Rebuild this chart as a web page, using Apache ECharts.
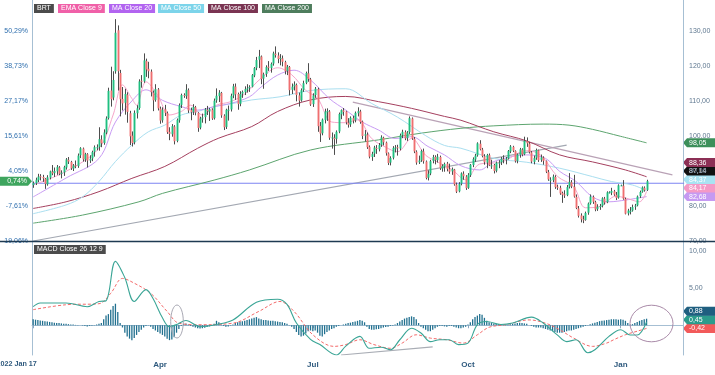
<!DOCTYPE html>
<html><head><meta charset="utf-8">
<script src="https://cdn.jsdelivr.net/npm/echarts@6/dist/echarts.min.js"></script>
<style>html,body{margin:0;padding:0;background:#fff}#c{width:715px;height:375px}</style>
</head><body><div id="c"></div>
<script>
// ---------- DATA ----------
const startDate = [2022, 0, 17];          // first trading day shown
const categoryCount = 277;                // weekdays on the axis (incl. empty space at right)
const xTickIndex = [0, 54, 119, 185, 250];
const xTickText = ['2022 Jan 17', 'Apr', 'Jul', 'Oct', 'Jan'];
const priceTicks = [70, 80, 90, 100, 110, 120, 130];
const pctTickLabels = ['-19,06%', '-7,61%', '4,05%', '15,61%', '27,17%', '38,73%', '50,29%'];
const basePrice = 86.5;
const currentPctLabel = '0,74%';

// daily candles [open, high, low, close]
const ohlc = [
[86.0,87.0,85.2,86.5],[86.5,88.1,86.0,87.5],[87.4,89.2,86.8,88.4],[88.5,89.1,87.3,88.4],[88.3,88.9,86.9,87.9],
[87.8,88.0,84.9,86.3],[86.2,88.8,85.8,88.2],[88.1,90.1,87.6,89.9],[89.8,91.7,88.8,89.3],[89.4,91.0,88.3,90.0],
[89.9,91.7,88.9,91.2],[91.0,91.4,88.8,89.2],[89.2,90.2,87.9,89.5],[89.6,91.5,88.6,91.1],[91.0,93.7,90.4,93.3],
[93.2,94.0,92.0,92.7],[92.6,92.9,90.3,90.8],[90.7,92.0,90.0,91.6],[91.6,93.0,90.8,91.4],[91.4,95.0,90.9,94.4],
[94.5,96.8,93.7,96.5],[96.4,96.7,92.7,93.3],[93.3,95.2,92.6,94.8],[94.8,95.1,91.0,93.0],[93.0,94.5,92.3,93.5],
[93.6,95.8,92.8,95.4],[95.5,97.3,94.1,96.8],[96.7,97.6,95.9,96.8],[96.9,102.5,95.8,99.1],[99.0,100.2,96.8,97.9],
[98.0,101.9,97.5,101.0],[101.0,105.6,100.5,105.0],[105.1,113.8,104.7,112.9],[113.0,119.8,108.4,110.5],[111.0,118.5,110.2,116.0],
[118.5,133.4,117.8,129.5],[130.2,131.6,113.0,118.5],[118.0,118.9,105.6,110.5],[110.6,114.0,107.3,109.3],[109.5,113.5,106.1,112.0],
[111.8,112.5,103.8,106.9],[106.5,107.2,97.4,99.9],[100.1,101.3,97.0,98.0],[98.2,107.3,97.6,106.6],[106.5,108.8,105.0,107.9],
[108.0,116.2,107.5,115.6],[115.8,117.4,113.8,115.5],[115.6,123.6,115.2,121.6],[121.4,122.1,116.9,119.0],[119.2,121.2,116.5,118.5],
[118.4,119.0,111.3,112.5],[112.4,113.0,107.1,110.2],[110.3,114.8,109.8,113.4],[113.3,113.7,107.3,107.9],[107.8,108.4,103.5,104.4],
[104.5,108.2,103.8,107.5],[107.6,108.9,105.7,106.6],[106.5,107.0,100.6,101.1],[101.2,102.5,98.8,100.6],[100.5,103.4,99.8,102.8],
[102.7,103.1,97.6,98.5],[98.6,105.0,98.2,104.6],[104.5,109.3,103.8,108.8],[108.9,112.1,108.0,111.7],[111.7,112.2,110.9,111.5],
[111.4,114.8,110.6,113.2],[113.1,113.6,106.6,107.3],[107.4,108.1,104.5,106.8],[106.9,109.1,106.0,108.3],[108.2,108.6,105.9,106.7],
[106.6,106.8,101.2,102.3],[102.4,105.5,101.9,105.0],[105.0,106.4,103.8,105.3],[105.4,108.0,103.6,107.6],[107.5,108.6,106.0,107.1],
[107.0,108.0,104.3,107.6],[107.5,107.9,104.6,105.0],[105.1,110.7,104.7,110.1],[110.2,113.6,109.5,111.5],[111.4,113.1,109.7,112.4],
[112.3,112.6,105.2,105.9],[105.8,106.2,101.7,102.5],[102.6,107.8,102.0,107.5],[107.4,108.7,104.4,107.5],[107.6,112.1,107.0,111.5],
[111.6,114.9,110.8,114.2],[114.1,115.0,110.3,111.9],[112.0,112.4,107.5,109.1],[109.2,112.8,108.5,112.0],[112.1,113.0,110.9,112.6],
[112.5,114.2,111.7,113.4],[113.5,114.8,112.4,113.6],[113.7,114.5,112.6,114.0],[114.1,117.7,113.9,117.4],[117.3,119.7,116.8,119.4],
[119.5,122.6,118.8,121.7],[121.8,124.6,119.4,122.8],[122.7,123.0,114.8,116.3],[116.4,118.1,113.5,117.6],[117.7,120.2,116.9,119.7],
[119.8,121.4,118.6,119.5],[119.4,121.0,118.1,120.6],[120.7,124.1,120.1,123.6],[123.5,125.6,122.4,123.1],[123.0,123.9,120.8,122.0],
[122.1,123.4,120.2,122.3],[122.2,123.0,119.9,121.2],[121.1,121.5,117.6,118.5],[118.6,120.3,117.4,119.8],[119.7,120.0,111.6,113.1],
[113.2,115.0,112.0,114.1],[114.2,115.6,113.0,114.7],[114.6,115.0,109.9,111.7],[111.6,112.4,108.4,110.1],[110.2,113.6,109.8,113.1],
[113.2,115.8,112.6,115.1],[115.2,118.4,114.8,118.0],[117.9,120.8,115.5,116.3],[116.2,116.6,108.6,109.0],[109.1,112.2,108.3,111.6],
[111.7,114.0,110.9,113.5],[113.4,113.8,101.2,102.8],[102.9,104.0,98.3,100.7],[100.8,105.0,100.2,104.7],[104.6,107.8,103.6,107.0],
[107.1,107.9,104.3,107.1],[107.0,107.4,98.9,99.5],[99.6,101.0,96.4,99.6],[99.5,100.5,94.6,99.1],[99.2,101.6,97.8,101.2],
[101.3,106.7,100.8,106.3],[106.2,107.6,104.8,107.4],[107.3,108.0,105.8,106.9],[107.0,107.2,103.3,103.9],[103.8,105.1,102.4,103.2],
[103.3,105.6,102.6,105.2],[105.1,105.8,103.6,104.4],[104.5,107.0,103.9,106.6],[106.5,108.2,105.6,107.1],[107.0,107.5,103.5,104.0],
[104.1,104.4,99.1,100.0],[100.1,101.7,98.4,100.5],[100.4,101.0,96.3,96.8],[96.9,97.3,93.6,94.1],[94.0,95.5,92.9,94.9],
[95.0,97.2,94.0,96.7],[96.6,97.4,94.9,96.3],[96.2,98.0,95.6,97.4],[97.5,100.2,96.9,99.6],[99.5,99.8,97.3,98.2],
[98.1,98.4,94.4,95.1],[95.0,95.3,91.7,92.3],[92.4,94.2,91.6,93.7],[93.8,97.1,93.3,96.6],[96.5,97.4,95.3,96.7],
[96.8,97.5,94.4,96.5],[96.4,100.7,95.9,100.2],[100.3,101.8,99.4,101.2],[101.1,101.6,98.8,99.3],[99.4,101.4,98.6,101.0],
[101.1,105.6,100.6,105.1],[105.0,105.3,98.9,99.3],[99.2,99.7,95.1,95.6],[95.5,95.9,91.8,92.4],[92.5,94.4,92.0,93.0],
[93.1,96.1,92.6,95.7],[95.6,96.4,92.1,92.8],[92.7,93.0,87.6,88.0],[88.1,90.2,87.3,89.2],[89.3,93.2,88.8,92.8],
[92.9,94.6,92.2,94.0],[94.0,94.5,91.9,93.2],[93.1,94.9,92.4,94.1],[94.0,94.4,90.3,90.8],[90.7,91.9,89.8,91.4],
[91.3,92.4,89.8,92.0],[92.1,92.6,89.9,90.6],[90.5,92.1,89.2,89.8],[89.9,91.0,88.9,90.5],[90.4,90.6,85.8,86.2],
[86.1,86.7,83.7,84.1],[84.2,86.8,83.9,86.3],[86.4,89.6,85.9,89.3],[89.2,89.9,87.5,88.5],[88.4,88.8,84.6,85.1],
[85.2,89.4,84.9,88.9],[88.8,92.0,88.3,91.8],[91.7,93.9,91.1,93.4],[93.3,94.9,92.6,94.4],[94.5,98.2,94.1,97.9],
[97.8,98.8,95.9,96.2],[96.1,96.6,93.9,94.3],[94.2,94.8,91.8,92.5],[92.4,94.9,90.8,94.6],[94.5,95.0,91.4,91.6],
[91.5,93.2,90.6,91.6],[91.7,92.0,89.3,90.0],[90.1,92.7,89.6,92.4],[92.3,93.1,90.8,92.4],[92.5,94.0,91.7,93.5],
[93.4,94.5,92.2,93.3],[93.2,94.0,91.9,93.5],[93.6,96.0,93.3,95.7],[95.6,97.4,95.1,97.0],[96.9,97.2,95.4,95.8],
[95.7,95.9,92.4,92.8],[92.9,95.0,92.2,94.7],[94.6,96.6,93.8,96.2],[96.1,96.5,94.2,94.7],[94.8,99.8,94.5,98.6],
[98.5,99.6,96.9,97.9],[97.8,98.3,95.0,95.4],[95.3,95.7,92.2,92.7],[92.6,94.4,91.9,93.7],[93.8,96.4,93.2,96.0],
[95.9,96.1,92.6,93.1],[93.2,94.7,92.6,93.9],[93.8,94.2,91.8,92.9],[92.8,93.0,89.4,89.8],[89.7,90.3,87.2,87.6],
[87.5,88.2,82.6,87.5],[87.4,89.0,86.8,88.4],[88.3,88.8,84.9,85.4],[85.5,86.1,84.6,85.3],[85.2,85.8,83.2,83.6],
[83.7,84.1,80.9,83.2],[83.3,84.5,82.3,83.0],[83.1,86.0,82.8,85.4],[85.5,89.4,85.0,86.9],[86.8,87.4,85.1,85.6],
[85.5,88.9,82.4,82.7],[82.6,83.3,79.1,79.4],[79.3,80.0,76.7,77.2],[77.3,77.9,75.3,76.2],[76.2,77.2,75.1,76.1],
[76.0,78.4,75.8,78.0],[78.1,81.0,77.5,80.7],[80.8,83.3,80.4,82.7],[82.6,83.0,80.6,81.2],[81.1,81.5,78.5,79.0],
[79.1,80.5,78.6,79.8],[79.7,80.6,78.9,80.0],[80.1,82.5,79.6,82.2],[82.1,82.6,80.4,81.0],[81.1,84.2,80.8,83.9],
[83.9,84.2,83.6,83.9],[83.8,85.2,83.1,84.3],[84.2,84.6,82.9,83.3],[83.2,84.0,81.7,82.3],[82.4,86.2,82.1,85.9],
[85.9,86.1,85.7,85.9],[85.8,87.4,81.8,82.1],[82.0,82.4,77.6,77.8],[77.9,79.2,77.3,78.7],[78.6,79.7,77.6,78.6],
[78.7,80.4,78.4,79.7],[79.8,80.6,78.9,80.1],[80.2,83.0,79.9,82.7],[82.8,84.4,82.3,84.0],[84.1,85.6,83.8,85.3],
[85.2,85.6,84.1,84.5],[84.6,87.5,84.3,87.1]
];

// moving averages: [day index, value]
const ema9 = [[0,86.0],[14,89.9],[28,96.5],[34,106],[38,114.6],[42,110.7],[44,108.8],[48,115.5],[53,111.6],[58,106],[63,107],[67,108.8],[72,106],[78,108.8],[84,109.8],[90,112],[97,116.5],[104,119.5],[110,117.5],[116,113],[121,110.8],[127,104],[133,103.8],[138,104.6],[144,99.3],[150,96.8],[155,95.5],[161,99.3],[167,94.5],[172,92.6],[178,90.5],[184,87.5],[190,92],[199,92.5],[210,95.8],[216,94.5],[223,88.5],[230,85.5],[235,79.5],[241,79.8],[248,82.8],[252,82.3],[258,81.2],[261,84.17]];
const ma20 = [[0,82.6],[14,88],[28,93.6],[35,104],[42,110],[48,113.2],[55,110.2],[63,108.4],[70,107.4],[77,108.4],[84,109.3],[92,111.2],[97,114],[104,117.4],[111,118.8],[118,116],[126,110.7],[133,107.4],[140,104],[147,101.7],[154,99.3],[161,99.8],[168,97],[175,94.6],[182,91.5],[190,90.3],[196,92.7],[210,94.6],[218,93.6],[224,89.9],[231,87],[238,82.6],[245,81.2],[252,81.7],[261,82.68]];
const ma50 = [[0,77.8],[14,80.3],[21,82.6],[28,87],[35,92.7],[42,97.4],[49,101.2],[56,103.1],[63,106],[70,107],[77,108.4],[85,109.3],[93,110.3],[105,111.2],[118,113],[133,113.5],[144,109.3],[155,105.4],[167,100.1],[175,97.3],[182,96.5],[196,93.6],[210,92.5],[224,90.8],[238,88.4],[246,87],[255,86],[261,84.37]];
const ma100 = [[0,79.3],[14,81.2],[28,84.1],[42,87.9],[56,91.3],[70,96.5],[79,99.4],[93,102.7],[104,107],[118,110.3],[133,111.3],[147,109.8],[161,107.9],[175,105.6],[182,104.5],[196,101.2],[210,98.6],[224,94.6],[238,92.6],[252,90.3],[261,88.36]];
const ma200 = [[0,75.1],[21,77.4],[45,81.2],[55,83.6],[77,87.4],[92,90.3],[118,96],[147,98.9],[165,100.8],[182,102.2],[196,102.9],[217,103.4],[228,103.1],[238,101.9],[250,99.9],[261,98.05]];
const trendUp = [[0,70.0],[227,97.4]];
const trendDown = [[136,109.7],[272,88.9]];

// MACD panel
const macdLine = [[0,2.5],[3,3.0],[14,3.0],[23,2.5],[28,3.2],[31,3.3],[35,8.6],[39,6.4],[43,3.2],[48,4.8],[51,3.6],[55,1.0],[58,-0.2],[61,0.1],[65,0.65],[71,-0.2],[78,0.1],[85,0.7],[95,3.1],[104,3.5],[108,2.8],[112,0.3],[118,-1.9],[122,-2.6],[129,-4.0],[133,-2.8],[139,-1.5],[143,-3.1],[148,-2.95],[152,-3.3],[156,-1.95],[161,-0.4],[165,-1.05],[169,-2.2],[173,-1.95],[177,-1.95],[181,-2.6],[185,-2.4],[189,0.1],[193,0.5],[199,0.1],[204,0.3],[212,1.1],[217,0.3],[223,-1.3],[227,-2.2],[231,-1.95],[236,-3.7],[239,-3.3],[245,-1.5],[250,-0.6],[254,-1.3],[257,-1.3],[261,0.45]];
const signalLine = [[0,2.1],[14,2.76],[28,2.9],[33,4.3],[38,6.3],[43,5.66],[50,4.3],[57,1.86],[62,0.28],[71,0.07],[85,0.28],[96,1.86],[105,3.2],[111,1.86],[119,-1.28],[128,-2.84],[133,-2.6],[139,-1.95],[145,-2.6],[152,-3.1],[157,-2.4],[163,-1.28],[169,-1.73],[176,-1.95],[183,-2.4],[189,-1.28],[194,-0.27],[201,0.07],[211,0.72],[218,0.28],[224,-0.6],[230,-1.73],[238,-2.84],[244,-2.4],[247,-1.95],[252,-1.28],[257,-0.8],[261,-0.42]];
const histogram = [
0.8,0.75,0.7,0.65,0.6,0.55,0.5,0.45,0.4,0.35,
0.3,0.3,0.25,0.2,0.2,0.15,0.1,0.1,0.05,0.05,
0.0,-0.05,-0.1,-0.15,-0.1,-0.05,0.05,0.1,0.2,0.3,
0.8,1.3,1.5,2.1,2.6,2.9,1.8,0.3,-0.3,-1.0,
-1.5,-1.8,-2.0,-1.7,-1.3,-0.9,-0.6,-0.3,-0.1,0.05,
-0.2,-0.5,-0.7,-0.9,-1.1,-1.3,-1.5,-1.8,-2.0,-1.9,
-1.6,-1.0,-0.5,-0.1,0.2,0.25,0.1,-0.1,-0.2,-0.3,
-0.4,-0.45,-0.4,-0.35,-0.25,-0.15,-0.05,0.2,0.6,0.4,
0.1,-0.1,-0.2,-0.15,-0.05,0.1,0.3,0.4,0.5,0.55,
0.6,0.7,0.8,0.9,1.0,1.1,0.9,0.8,0.7,0.7,
0.65,0.6,0.6,0.55,0.5,0.45,0.4,0.3,0.2,0.05,
-0.2,-0.5,-0.9,-1.3,-1.5,-1.4,-1.1,-0.8,-0.7,-0.8,
-0.7,-1.0,-1.4,-1.5,-1.2,-0.9,-0.7,-0.5,-0.4,-0.2,
-0.1,0.0,0.1,0.2,0.3,0.35,0.45,0.5,0.6,0.7,
0.6,0.4,-0.2,-0.5,-0.6,-0.6,-0.55,-0.5,-0.4,-0.3,
-0.25,-0.2,-0.1,-0.05,0.1,0.3,0.5,0.7,0.9,1.0,
1.1,1.2,1.1,0.8,0.3,-0.2,-0.4,-0.6,-0.8,-0.8,
-0.6,-0.4,-0.2,-0.1,-0.1,-0.15,-0.2,-0.1,-0.1,-0.2,
-0.3,-0.4,-0.4,-0.3,-0.2,0.1,0.4,0.8,1.1,1.3,
1.5,1.4,1.0,0.6,0.4,0.3,0.25,0.2,0.15,0.1,
0.05,0.05,0.1,0.15,0.2,0.25,0.3,0.35,0.3,0.25,
0.2,0.0,-0.1,-0.2,-0.3,-0.3,-0.3,-0.4,-0.5,-0.6,
-0.7,-0.8,-0.9,-1.0,-1.0,-1.0,-0.9,-0.8,-0.7,-0.7,
-0.6,-0.5,-0.4,-0.3,-0.2,-0.1,0.05,0.15,0.25,0.35,
0.45,0.55,0.6,0.65,0.7,0.75,0.8,0.8,0.8,0.75,
0.8,0.75,0.6,0.3,0.1,0.15,0.3,0.45,0.6,0.7,
0.8,0.88];
const macdTrend = [[130.6,-4.0],[169.5,-2.9]];

// right-hand value tags
const priceTags = [
  {value: 98.05, bg: '#3c8f5a', fg: '#ffffff'},
  {value: 88.36, bg: '#8c2f55', fg: '#ffffff'},
  {value: 87.14, bg: '#111111', fg: '#ffffff'},
  {value: 84.37, bg: '#a9e3f2', fg: '#ffffff'},
  {value: 84.17, bg: '#f49ac6', fg: '#ffffff'},
  {value: 82.68, bg: '#c59af2', fg: '#ffffff'}
];
const macdTags = [
  {value: 0.88, bg: '#1f5f80', fg: '#ffffff'},
  {value: 0.45, bg: '#2b9c8c', fg: '#ffffff'},
  {value: -0.42, bg: '#f25a5a', fg: '#ffffff'}
];
const legendTags = [
  {text: 'BRT', bg: '#4b4b4b', x: 34},
  {text: 'EMA Close 9', bg: '#f060a8', x: 58},
  {text: 'MA Close 20', bg: '#b264f0', x: 109},
  {text: 'MA Close 50', bg: '#7cd4ea', x: 158},
  {text: 'MA Close 100', bg: '#7a3452', x: 208},
  {text: 'MA Close 200', bg: '#4e7d5d', x: 262}
];

// ---------- CHART ----------
const FONT = "'Liberation Sans', Arial, sans-serif";
const categories = [];
(function(){
  let t = Date.UTC(startDate[0], startDate[1], startDate[2]);
  while (categories.length < categoryCount) {
    const d = new Date(t), wd = d.getUTCDay();
    if (wd !== 0 && wd !== 6) categories.push(d.toISOString().slice(0, 10));
    t += 86400000;
  }
})();
const comma = v => v.toFixed(2).replace('.', ',');
const chart = echarts.init(document.getElementById('c'), null, {renderer: 'canvas'});

const axisLineStyle = {show: true, lineStyle: {color: '#a6bfd3', width: 1}};
const mainMax = 70 + 241 / 3.5;

function renderCandle(params, api) {
  const i = api.value(0), o = api.value(1), h = api.value(2), l = api.value(3), c = api.value(4);
  const pO = api.coord([i, o]), pC = api.coord([i, c]);
  const pH = api.coord([i, h]), pL = api.coord([i, l]);
  const w = api.size([1, 0])[0] * 0.8;
  const top = Math.min(pO[1], pC[1]), bot = Math.max(pO[1], pC[1]);
  const xc = Math.round(pO[0]) + 0.5;
  return {type: 'group', children: [
    {type: 'line', shape: {x1: xc, y1: pH[1], x2: xc, y2: pL[1]}, style: {stroke: '#4d4d4d', lineWidth: 1}},
    {type: 'rect', shape: {x: xc - w / 2, y: top, width: w, height: Math.max(bot - top, 1)},
     style: {fill: c >= o ? '#1fbf80' : '#ef6f70'}}
  ]};
}
const maLine = (data, color, width) => ({
  type: 'line', xAxisIndex: 0, yAxisIndex: 0, data, smooth: 0.35, showSymbol: false, silent: true,
  lineStyle: {color, width: width || 1}, z: 3
});
const xLabelStyle = {color: '#2f5a7e', fontSize: 8, fontWeight: 'bold', fontFamily: FONT};

chart.setOption({
  animation: false,
  backgroundColor: '#ffffff',
  textStyle: {fontFamily: FONT},
  grid: [
    {left: 32, right: 32, top: 0, height: 241, containLabel: false, outerBoundsMode: 'none'},
    {left: 32, right: 32, top: 242, height: 113, containLabel: false, outerBoundsMode: 'none'}
  ],
  xAxis: [
    {type: 'category', gridIndex: 0, data: categories, boundaryGap: true,
     axisLine: {show: false}, axisTick: {show: false}, axisLabel: {show: false}, splitLine: {show: false}},
    {type: 'category', gridIndex: 1, data: categories, boundaryGap: true,
     axisLine: axisLineStyle,
     axisTick: {show: true, alignWithLabel: true, length: 3, lineStyle: {color: '#8aa7c0'},
                interval: (idx) => xTickIndex.indexOf(idx) >= 0},
     axisLabel: Object.assign({interval: (idx) => xTickIndex.indexOf(idx) >= 0,
                 formatter: (val, idx) => { const k = xTickIndex.indexOf(idx);
                   if (k < 0) return ''; return k === 0 ? '{first|' + xTickText[k] + '}' : xTickText[k]; },
                 margin: 6,
                 rich: {first: Object.assign({}, xLabelStyle, {fontSize: 7.2, padding: [0, 33, 0, 0]})}}, xLabelStyle),
     splitLine: {show: false}}
  ],
  yAxis: [
    {type: 'value', gridIndex: 0, position: 'right', min: 70, max: mainMax, interval: 10,
     axisLine: axisLineStyle, axisTick: {show: false}, splitLine: {show: false},
     axisLabel: {formatter: v => priceTicks.indexOf(v) >= 0 ? comma(v) : '', color: '#5f7890', fontSize: 7, fontFamily: FONT, margin: 6, showMaxLabel: false}},
    {type: 'value', gridIndex: 0, position: 'left', min: 70, max: mainMax, interval: 10,
     axisLine: axisLineStyle, axisTick: {show: false}, splitLine: {show: false},
     axisLabel: {formatter: v => { const k = priceTicks.indexOf(v); return k >= 0 ? pctTickLabels[k] : ''; },
                 color: '#2f6fae', fontSize: 7, fontFamily: FONT, margin: 4, showMaxLabel: false}},
    {type: 'value', gridIndex: 1, position: 'right', min: -4, max: 11.2, interval: 1,
     axisLine: axisLineStyle, axisTick: {show: false}, splitLine: {show: false},
     axisLabel: {formatter: v => (v === 5 || v === 10) ? comma(v) : '', color: '#5f7890', fontSize: 7, fontFamily: FONT, margin: 6, showMaxLabel: false}},
    {type: 'value', gridIndex: 1, position: 'left', min: -4, max: 11.2, interval: 1,
     axisLine: axisLineStyle, axisTick: {show: false}, splitLine: {show: false}, axisLabel: {show: false}}
  ],
  series: [
    {type: 'line', xAxisIndex: 0, yAxisIndex: 0, data: trendUp, showSymbol: false, silent: true,
     lineStyle: {color: '#a3a8b2', width: 1.2}, z: 2},
    {type: 'line', xAxisIndex: 0, yAxisIndex: 0, data: trendDown, showSymbol: false, silent: true,
     lineStyle: {color: '#b9a2b6', width: 1.2}, z: 2},
    {type: 'line', xAxisIndex: 0, yAxisIndex: 0, data: [[-0.5, basePrice], [categoryCount - 0.5, basePrice]],
     showSymbol: false, silent: true, lineStyle: {color: '#7c84f2', width: 1.2}, z: 2},
    maLine(ma200, '#5da56f'),
    maLine(ma100, '#a5405f'),
    maLine(ma50, '#aadff0'),
    maLine(ma20, '#c99cf4'),
    maLine(ema9, '#f6a6cb'),
    {type: 'custom', xAxisIndex: 0, yAxisIndex: 0, renderItem: renderCandle, clip: true, z: 4,
     encode: {x: 0, y: [1, 2, 3, 4]}, data: ohlc.map((r, i) => [i, r[0], r[1], r[2], r[3]])},
    {type: 'bar', xAxisIndex: 1, yAxisIndex: 2, data: histogram, barWidth: '55%', silent: true,
     itemStyle: {color: '#21708f'}},
    {type: 'line', xAxisIndex: 1, yAxisIndex: 2, data: macdTrend, showSymbol: false, silent: true,
     lineStyle: {color: '#a9adb5', width: 1.2}},
    {type: 'line', xAxisIndex: 1, yAxisIndex: 2, data: signalLine, smooth: 0.35, showSymbol: false, silent: true,
     lineStyle: {color: '#f46a6a', width: 1, type: [3, 2]}},
    {type: 'line', xAxisIndex: 1, yAxisIndex: 2, data: macdLine, smooth: 0.35, showSymbol: false, silent: true,
     lineStyle: {color: '#3aa596', width: 1.1}}
  ]
});

// ---------- annotations (tags, legend, drawings) ----------
function stackTags(tags, axisIndex, gap) {
  const items = tags.map(t => ({t, y: chart.convertToPixel({yAxisIndex: axisIndex}, t.value)}))
                    .sort((a, b) => a.t.value - b.t.value);
  let prev = Infinity;
  items.forEach(it => { it.y = Math.min(it.y, prev - gap); prev = it.y; });
  return items;
}
function arrowTag(y, text, bg, fg) {
  return {type: 'group', z: 50, children: [
    {type: 'polygon', shape: {points: [[683, y], [687, y - 4.5], [715, y - 4.5], [715, y + 4.5], [687, y + 4.5]]},
     style: {fill: bg}},
    {type: 'text', x: 689, y: y, style: {text, fill: fg, font: '7px ' + FONT, verticalAlign: 'middle'}}
  ]};
}
const graphics = [];
stackTags(priceTags, 0, 8.5).forEach(it => graphics.push(arrowTag(it.y, comma(it.t.value), it.t.bg, it.t.fg)));
stackTags(macdTags, 2, 8.6).forEach(it => graphics.push(arrowTag(it.y, comma(it.t.value), it.t.bg, it.t.fg)));
// current % tag on the left
const lastClose = ohlc[ohlc.length - 1][3];
const yPct = chart.convertToPixel({yAxisIndex: 0}, lastClose);
graphics.push({type: 'group', z: 50, children: [
  {type: 'polygon', shape: {points: [[0, yPct - 4.5], [28, yPct - 4.5], [32, yPct], [28, yPct + 4.5], [0, yPct + 4.5]]}, style: {fill: '#3ea55e'}},
  {type: 'text', x: 27, y: yPct, style: {text: currentPctLabel, fill: '#ffffff', font: '7px ' + FONT, align: 'right', verticalAlign: 'middle'}}
]});
legendTags.forEach(l => graphics.push({type: 'text', x: l.x, y: 4, z: 50,
  style: {text: l.text, fill: '#ffffff', font: '7px ' + FONT, backgroundColor: l.bg, padding: [1, 3, 1, 3]}}));
graphics.push({type: 'text', x: 34, y: 245, z: 50,
  style: {text: 'MACD Close 26 12 9', fill: '#ffffff', font: '7px ' + FONT, backgroundColor: '#4b4b4b', padding: [1, 3, 1, 3]}});
// panel separator
graphics.push({type: 'line', z: 40, shape: {x1: 0, y1: 241.5, x2: 715, y2: 241.5}, style: {stroke: '#1e3a52', lineWidth: 1.5}});
// hand-drawn ellipses
graphics.push({type: 'ellipse', z: 45, shape: {cx: 177, cy: 321.5, rx: 6.3, ry: 16.5}, style: {fill: 'none', stroke: '#a9a9b4', lineWidth: 1}});
graphics.push({type: 'ellipse', z: 45, shape: {cx: 651.5, cy: 323.5, rx: 21.5, ry: 18.3}, style: {fill: 'none', stroke: '#a98aa8', lineWidth: 1}});
chart.setOption({graphic: graphics});
</script></body></html>
